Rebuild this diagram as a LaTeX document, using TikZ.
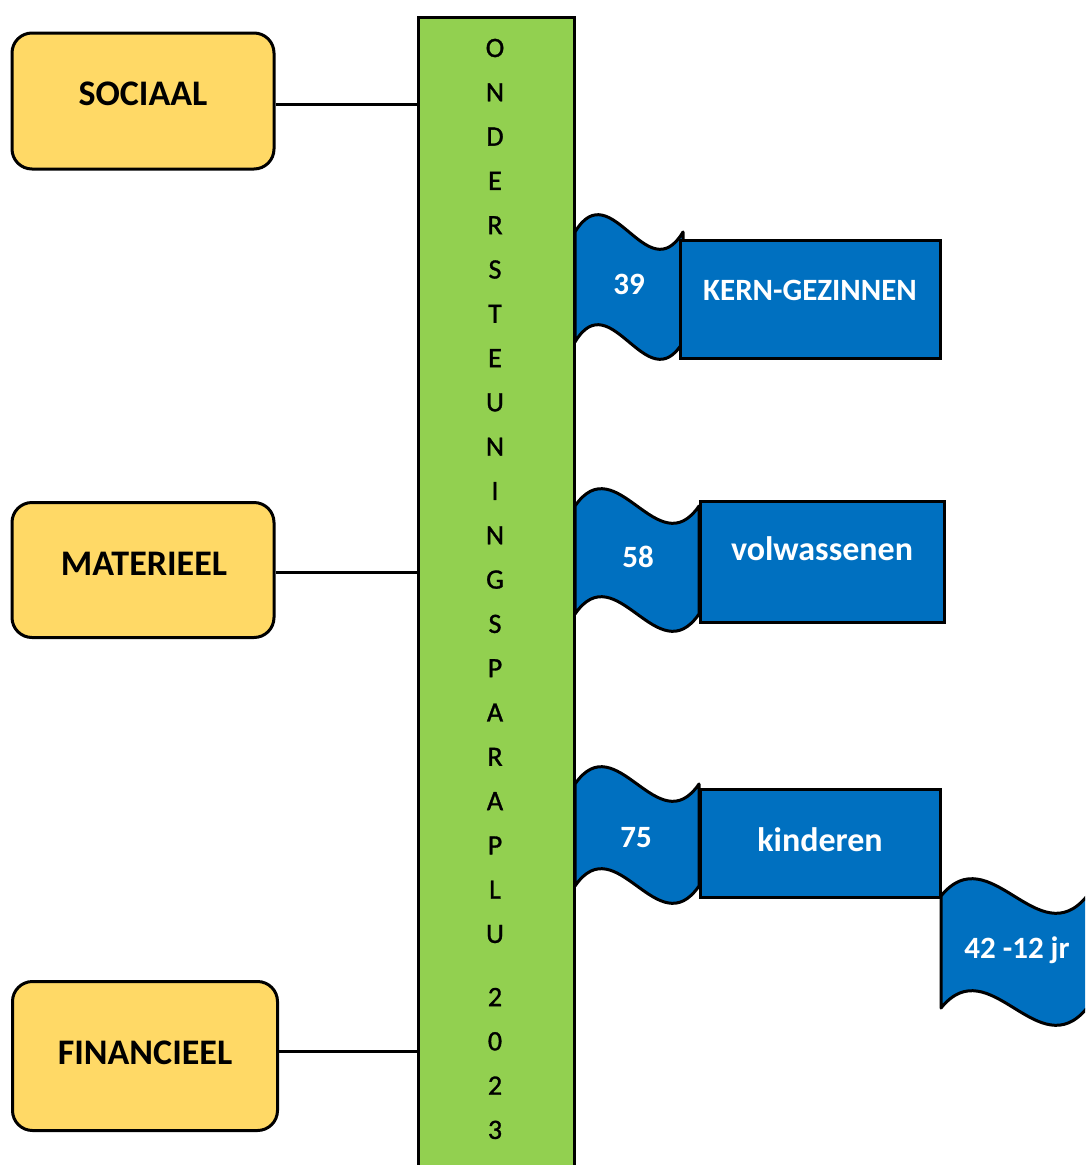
\documentclass[tikz,border=0pt]{standalone}
\usepackage{fontspec}
\setmainfont{Carlito}
\newfontfamily\barfont[FakeBold=1.2]{Carlito}
\usepackage{tikz}

\definecolor{gold}{HTML}{FFD966}
\definecolor{leaf}{HTML}{92D050}
\definecolor{ocean}{HTML}{0070C0}

% wave flag: left x, top y, width, height
\newcommand{\flag}[4]{(#1,#2) .. controls +(#3/3,-60) and +(-#3/3,60) .. ++(#3,0) -- ++(0,#4) .. controls +(-#3/3,60) and +(#3/3,-60) .. ++(-#3,0) -- cycle}

\begin{document}
\begin{tikzpicture}[x=1pt,y=-1pt,line width=3pt,
  pillar/.style={rounded corners=20pt,draw,fill=gold,inner sep=0pt},
  pillartext/.style={font=\fontsize{36}{42}\selectfont\bfseries,inner sep=0pt},
  bar/.style={draw,fill=leaf,inner sep=0pt},
  letter/.style={font=\barfont\fontsize{28}{32}\selectfont,inner sep=0pt},
  block/.style={draw,fill=ocean,inner sep=0pt},
  wavetext/.style={text=white,font=\fontsize{31}{36}\selectfont\bfseries,inner sep=0pt},
  wordtext/.style={wavetext,font=\fontsize{34}{40}\selectfont\bfseries}]
\useasboundingbox (0,0) rectangle (1085,1165);
\clip (0,0) rectangle (1085,1165);

\node[bar,minimum width=156pt,minimum height=1180pt] (umbrella) at (496,607) {};
\foreach \ch [count=\i] in {O,N,D,E,R,S,T,E,U,N,I,N,G,S,P,A,R,A,P,L,U}
  \node[letter] (l\i) at (495,48+44.3*\i-44.3) {\ch};
\foreach \ch [count=\i] in {2,0,2,3}
  \node[letter] (y\i) at (495,997+44.3*\i-44.3) {\ch};

\node[pillar,minimum width=262pt,minimum height=136pt] (sociaal) at (143,101) {};
\node[pillartext] at (143,94) {SOCIAAL};
\node[pillar,minimum width=262pt,minimum height=135pt] (materieel) at (143,570) {};
\node[pillartext] at (144,564) {MATERIEEL};
\node[pillar,minimum width=265pt,minimum height=149pt] (financieel) at (145,1056) {};
\node[pillartext] at (145,1053) {FINANCIEEL};

\draw (sociaal.east |- 0,104) -- (umbrella.west |- 0,104);
\draw (materieel.east |- 0,572) -- (umbrella.west |- 0,572);
\draw (financieel.east |- 0,1051) -- (umbrella.west |- 0,1051);

\draw[fill=ocean,line join=round] \flag{575}{232}{108}{110};
\node[wavetext] (n39) at (629,284) {39};
\node[block,minimum width=260pt,minimum height=118pt] (kern) at (810,299) {};
\node[wavetext] at (810,290) {KERN-GEZINNEN};

\draw[fill=ocean,line join=round] \flag{575}{506}{124}{108};
\node[wavetext] (n58) at (638,557) {58};
\node[block,minimum width=244pt,minimum height=121pt] (volw) at (822,562) {};
\node[wordtext] at (822,549) {volwassenen};

\draw[fill=ocean,line join=round] \flag{575}{784}{124}{102};
\node[wavetext] (n75) at (636,838) {75};
\node[block,minimum width=240pt,minimum height=108pt] (kind) at (820,843) {};
\node[wordtext] at (820,840) {kinderen};

\draw[fill=ocean,line join=round] \flag{941}{896}{146}{112};
\node[wavetext] (n42) at (1017,950) {42 -12 jr};
\end{tikzpicture}
\end{document}
